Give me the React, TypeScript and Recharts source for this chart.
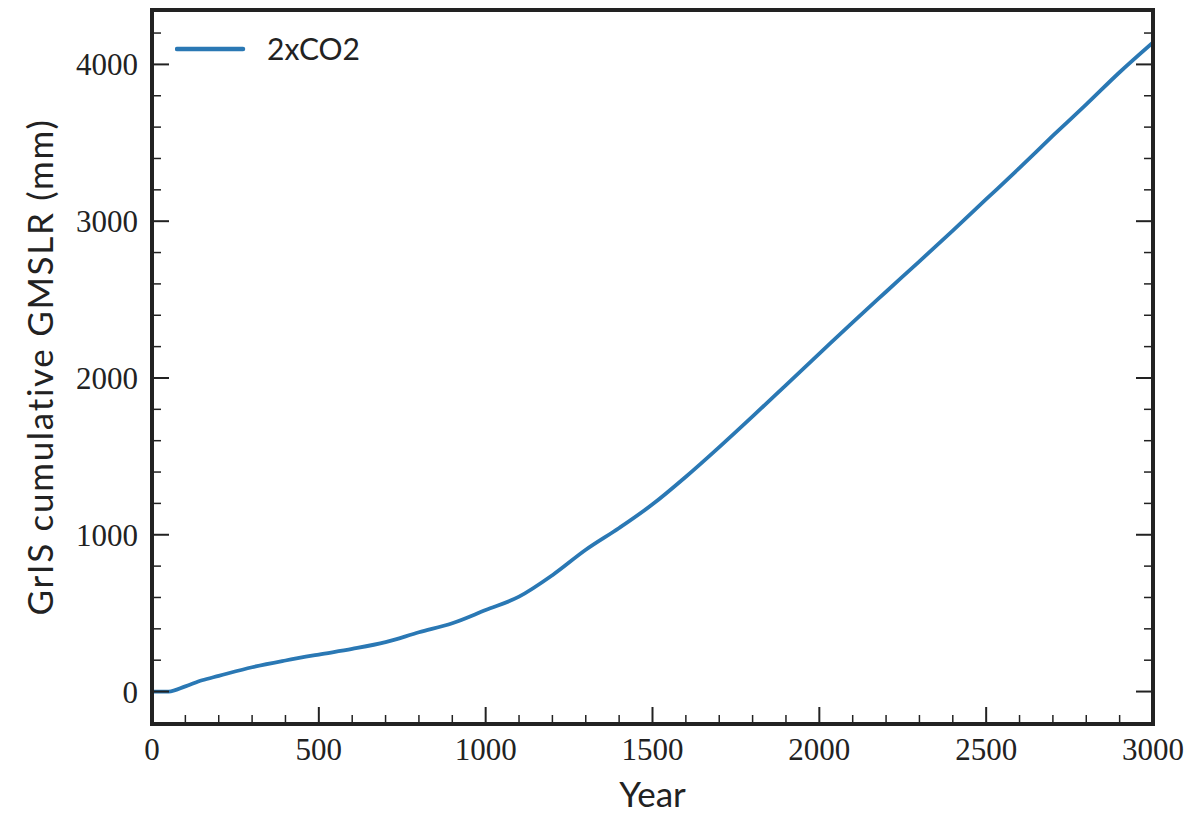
import { LineChart, Line, XAxis, YAxis, Legend } from "recharts";

const years = [
  0, 50, 100, 150, 200, 300, 400, 500, 600, 700, 800, 900, 1000, 1100, 1200,
  1300, 1400, 1500, 1600, 1700, 1800, 1900, 2000, 2100, 2200, 2300, 2400, 2500,
  2600, 2700, 2800, 2900, 3000,
];
const gmslr2xCO2 = [
  0, 0, 33, 72, 100, 155, 198, 236, 272, 315, 378, 436, 520, 605, 742, 904,
  1043, 1194, 1370, 1559, 1755, 1955, 2155, 2355, 2550, 2744, 2940, 3140, 3340,
  3545, 3745, 3950, 4140,
];

const xTicks = Array.from({ length: 31 }, (_, i) => i * 100);
const yTicks = Array.from({ length: 22 }, (_, i) => i * 200);

const data = years.map((year, i) => ({ year, value: gmslr2xCO2[i] }));

const INK = "#222";
const BLUE = "#2a78b4";
const SERIF = "'Liberation Serif', 'DejaVu Serif', serif";
const SANS = "Lato, 'Open Sans', sans-serif";

const MAJOR = 17;
const MINOR = 9;

function tickLen(v: number, step: number) {
  return v % step === 0 ? MAJOR : MINOR;
}

function BottomTick(props: any) {
  const { x, y, payload } = props;
  const v = payload.value as number;
  const major = v % 500 === 0;
  return (
    <g>
      <line x1={x} x2={x} y1={y} y2={y - tickLen(v, 500)} stroke={INK} strokeWidth={major ? 2 : 1.5} />
      {major && (
        <text x={x} y={y + 36} textAnchor="middle" fontFamily={SERIF} fontSize={31} fill={INK}>
          {v}
        </text>
      )}
    </g>
  );
}

function TopTick(props: any) {
  const { x, y, payload } = props;
  const v = payload.value as number;
  return (
    <line x1={x} x2={x} y1={y} y2={y + tickLen(v, 500)} stroke={INK} strokeWidth={v % 500 === 0 ? 2 : 1.5} />
  );
}

function LeftTick(props: any) {
  const { x, y, payload } = props;
  const v = payload.value as number;
  const major = v % 1000 === 0;
  return (
    <g>
      <line x1={x} x2={x + tickLen(v, 1000)} y1={y} y2={y} stroke={INK} strokeWidth={major ? 2 : 1.5} />
      {major && (
        <text x={x - 14} y={y + 11} textAnchor="end" fontFamily={SERIF} fontSize={31} fill={INK}>
          {v}
        </text>
      )}
    </g>
  );
}

function RightTick(props: any) {
  const { x, y, payload } = props;
  const v = payload.value as number;
  return (
    <line x1={x} x2={x - tickLen(v, 1000)} y1={y} y2={y} stroke={INK} strokeWidth={v % 1000 === 0 ? 2 : 1.5} />
  );
}

function LegendBox() {
  return (
    <svg width={200} height={44}>
      <line x1={2} x2={68} y1={20} y2={20} stroke={BLUE} strokeWidth={4.5} strokeLinecap="round" />
      <text x={92} y={31} fontFamily={SANS} fontSize={30} fill={INK}>
        2xCO2
      </text>
    </svg>
  );
}

const frame = { stroke: INK, strokeWidth: 4, strokeLinecap: "square" as const };

export default function App() {
  return (
    <div style={{ position: "absolute", left: 0, top: 0, width: 1191, height: 822, background: "#fff" }}>
      <LineChart width={1191} height={822} data={data} margin={{ top: 9, right: 37, bottom: 38, left: 72 }}>
        <XAxis
          dataKey="year"
          type="number"
          domain={[0, 3000]}
          allowDataOverflow
          ticks={xTicks}
          interval={0}
          height={60}
          tickSize={0}
          tickMargin={0}
          tickLine={false}
          axisLine={frame}
          tick={<BottomTick />}
          label={{
            content: ({ viewBox }: any) => (
              <text
                x={viewBox.x + viewBox.width / 2}
                y={viewBox.y + 83}
                textAnchor="middle"
                fontFamily={SANS}
                fontSize={35}
                fill={INK}
              >
                Year
              </text>
            ),
          }}
        />
        <XAxis
          xAxisId="top"
          orientation="top"
          type="number"
          domain={[0, 3000]}
          allowDataOverflow
          ticks={xTicks}
          interval={0}
          height={1}
          tickSize={0}
          tickMargin={0}
          tickLine={false}
          axisLine={frame}
          tick={<TopTick />}
        />
        <YAxis
          type="number"
          domain={[-207, 4347]}
          allowDataOverflow
          ticks={yTicks}
          interval={0}
          width={80}
          tickSize={0}
          tickMargin={0}
          tickLine={false}
          axisLine={frame}
          tick={<LeftTick />}
          label={{
            content: ({ viewBox }: any) => {
              const cx = viewBox.x - 33;
              const cy = viewBox.y + viewBox.height / 2;
              return (
                <text
                  x={cx}
                  y={cy}
                  transform={`rotate(-90 ${cx} ${cy})`}
                  textAnchor="middle"
                  dominantBaseline="central"
                  fontFamily={SANS}
                  fontSize={35}
                  letterSpacing={1.7}
                  fill={INK}
                >
                  GrIS cumulative GMSLR (mm)
                </text>
              );
            },
          }}
        />
        <YAxis
          yAxisId="right"
          orientation="right"
          type="number"
          domain={[-207, 4347]}
          allowDataOverflow
          ticks={yTicks}
          interval={0}
          width={1}
          tickSize={0}
          tickMargin={0}
          tickLine={false}
          axisLine={frame}
          tick={<RightTick />}
        />
        <Legend
          layout="horizontal"
          verticalAlign="middle"
          align="center"
          wrapperStyle={{ left: 175, top: 29, width: "auto" }}
          content={() => <LegendBox />}
        />
        <Line
          type="monotone"
          dataKey="value"
          name="2xCO2"
          stroke={BLUE}
          strokeWidth={3.8}
          dot={false}
          isAnimationActive={false}
        />
      </LineChart>
    </div>
  );
}
